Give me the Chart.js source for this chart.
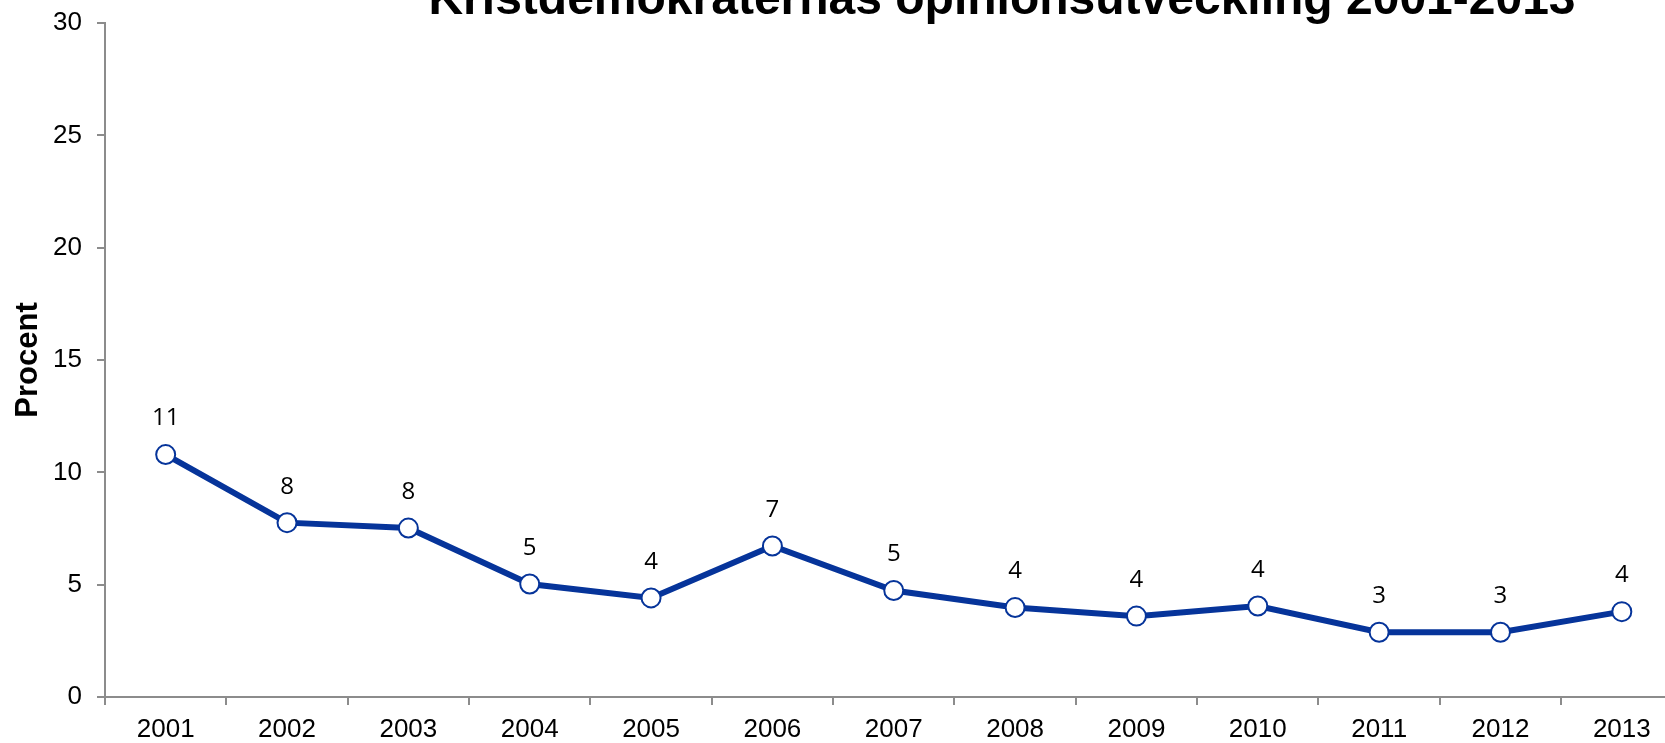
<!DOCTYPE html>
<html>
<head>
<meta charset="utf-8">
<script src="https://cdn.jsdelivr.net/npm/chart.js@4.4.0/dist/chart.umd.min.js"></script>
<style>
  html, body { margin: 0; padding: 0; overflow: hidden; background: #fff; }
  canvas { display: block; }
</style>
</head>
<body>
<canvas id="lineChart" width="1720" height="743"></canvas>
<script>
var years = ['2001', '2002', '2003', '2004', '2005', '2006', '2007', '2008', '2009', '2010', '2011', '2012', '2013'];
var procent = [10.79, 7.76, 7.52, 5.03, 4.41, 6.72, 4.74, 3.98, 3.60, 4.05, 2.88, 2.88, 3.80];
var valueLabels = ['11', '8', '8', '5', '4', '7', '5', '4', '4', '4', '3', '3', '4'];
var yTicks = [0, 5, 10, 15, 20, 25, 30];
var chartTitle = 'Kristdemokraternas opinionsutveckling 2001-2013';

var blue = '#06349a';
var axisGrey = '#8c8c8c';

Chart.defaults.font.family = '"Liberation Sans", Arial, sans-serif';
Chart.defaults.color = '#000';

// title sits partly above the top edge, like in the original
var topTitle = {
    id: 'topTitle',
    afterDraw: function (chart) {
        var ctx = chart.ctx;
        ctx.save();
        ctx.font = 'bold 48px "Liberation Sans", Arial, sans-serif';
        ctx.fillStyle = '#000';
        ctx.textAlign = 'center';
        ctx.textBaseline = 'alphabetic';
        ctx.fillText(chartTitle, 1002, 13.5);
        ctx.restore();
    }
};

// rounded values above each point
var valueText = {
    id: 'valueText',
    afterDatasetsDraw: function (chart) {
        var ctx = chart.ctx;
        var meta = chart.getDatasetMeta(0);
        ctx.save();
        ctx.font = '24px "Open Sans", "Noto Sans", sans-serif';
        ctx.fillStyle = '#000';
        ctx.textAlign = 'center';
        ctx.textBaseline = 'middle';
        meta.data.forEach(function (pt, i) {
            ctx.fillText(valueLabels[i], pt.x, pt.y - 36);
        });
        ctx.restore();
    }
};

var ctx = document.getElementById('lineChart');
var myChart = new Chart(ctx, {
    type: 'line',
    data: {
        labels: years,
        datasets: [
            {
                label: 'Procent',
                data: procent,
                borderColor: blue,
                borderWidth: 6,
                tension: 0,
                pointRadius: 9.5,
                pointHoverRadius: 9.5,
                pointBorderWidth: 2,
                pointBorderColor: blue,
                pointBackgroundColor: '#fff'
            }
        ]
    },
    options: {
        responsive: false,
        animation: false,
        devicePixelRatio: 1,
        layout: {
            padding: { left: 0, top: 23, right: 37.5, bottom: 0 }
        },
        plugins: {
            legend: { display: false },
            tooltip: { enabled: false },
            title: { display: false }
        },
        scales: {
            x: {
                offset: true,
                grid: {
                    offset: true,
                    drawOnChartArea: false,
                    drawTicks: true,
                    tickLength: 8,
                    color: axisGrey,
                    lineWidth: 2
                },
                border: { display: true, color: axisGrey, width: 2 },
                ticks: {
                    font: { size: 26 },
                    padding: 9,
                    maxRotation: 0,
                    autoSkip: false
                },
                afterFit: function (scale) { scale.height = 46; }
            },
            y: {
                min: 0,
                max: 30,
                afterBuildTicks: function (scale) {
                    scale.ticks = yTicks.map(function (v) { return { value: v }; });
                },
                grid: {
                    drawOnChartArea: false,
                    drawTicks: true,
                    tickLength: 8,
                    color: axisGrey,
                    lineWidth: 2
                },
                border: { display: true, color: axisGrey, width: 2 },
                ticks: {
                    font: { size: 26 },
                    padding: 15
                },
                title: {
                    display: true,
                    text: 'Procent',
                    font: { size: 31, weight: 'bold' },
                    padding: { top: 10, bottom: 0 }
                },
                afterFit: function (scale) {
                    scale.width = 105;
                    scale.paddingTop = 0;
                    scale.paddingBottom = 0;
                }
            }
        }
    },
    plugins: [topTitle, valueText]
});
</script>
</body>
</html>
